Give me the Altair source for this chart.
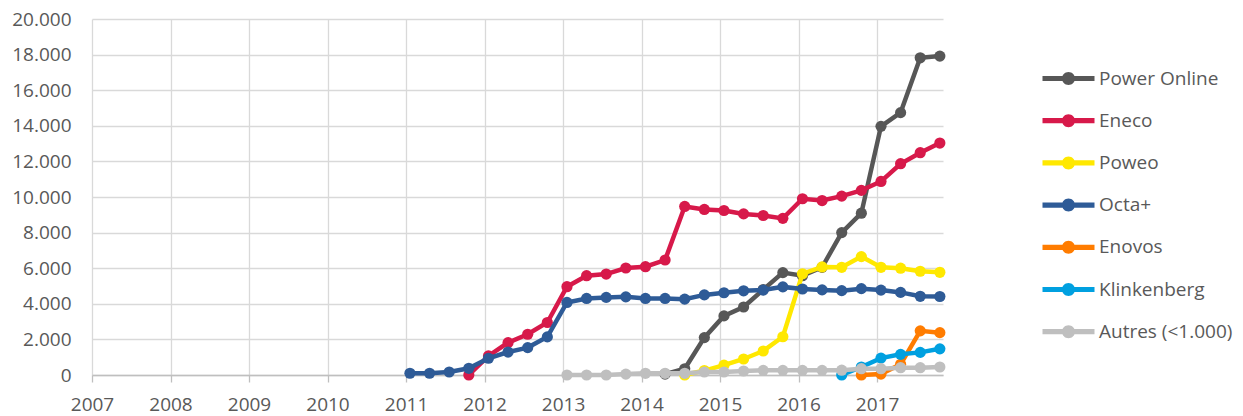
import altair as alt
import pandas as pd

# ---- data -------------------------------------------------------------
years = [2011, 2012, 2013, 2014, 2015, 2016, 2017]
quarter_offsets = [0.05, 0.30, 0.55, 0.80]          # position of T1..T4 inside a year
quarter_x = [y + q for y in years for q in quarter_offsets]   # 28 quarters 2011T1..2017T4

series_names = ["Power Online", "Eneco", "Poweo", "Octa+", "Enovos",
                "Klinkenberg", "Autres (<1.000)"]
series_colors = ["#575757", "#D7194A", "#FFE800", "#2E5B97", "#FF7C00",
                 "#00A0E0", "#BFBFBF"]

# first quarter index (0 = 2011T1) of each series
start_index = [13, 3, 14, 0, 23, 22, 8]

power_online = [50, 350, 2100,
                3320, 3820, 4800, 5750,
                5580, 6050, 8000, 9090,
                13970, 14740, 17820, 17915]
eneco = [0,
         1070, 1820, 2290, 2950,
         4960, 5580, 5670, 6010,
         6085, 6460, 9470, 9300,
         9240, 9050, 8960, 8800,
         9900, 9800, 10050, 10370,
         10875, 11870, 12490, 13030]
poweo = [0, 250,
         550, 900, 1350, 2150,
         5690, 6070, 6050, 6650,
         6050, 6000, 5830, 5770]
octa = [100, 100, 170, 375,
        940, 1290, 1540, 2140,
        4075, 4300, 4360, 4390,
        4300, 4300, 4260, 4500,
        4620, 4730, 4770, 4950,
        4830, 4780, 4740, 4850,
        4770, 4640, 4420, 4410]
enovos = [0, 50, 600, 2480, 2380]
klinkenberg = [0, 450, 950, 1160, 1270, 1470]
autres = [0, 0, 0, 50,
          95, 95, 95, 170,
          170, 225, 260, 260,
          260, 260, 270, 355,
          355, 410, 410, 450]

series_values = [power_online, eneco, poweo, octa, enovos, klinkenberg, autres]

year_ticks = list(range(2007, 2018))
y_ticks = list(range(0, 20001, 2000))

# ---- chart ------------------------------------------------------------
FONT = "Open Sans"
TXT = "#595959"
FS = 19

x_enc = alt.X("t:Q",
              scale=alt.Scale(domain=[2007, 2017.84], nice=False, zero=False),
              axis=alt.Axis(values=year_ticks, format="d", title=None,
                            grid=True, gridColor="#D9D9D9", gridWidth=1.3,
                            domainColor="#BFBFBF", domainWidth=1.3,
                            ticks=True, tickColor="#BFBFBF", tickSize=7, tickWidth=1.3,
                            labelFont=FONT, labelFontSize=FS, labelColor=TXT,
                            labelPadding=13, labelFlush=False))
y_enc = alt.Y("v:Q",
              scale=alt.Scale(domain=[0, 20000], nice=False),
              axis=alt.Axis(values=y_ticks, title=None,
                            labelExpr="replace(format(datum.value, ','), ',', '.')",
                            grid=True, gridColor="#D9D9D9", gridWidth=1.3,
                            domain=False, ticks=False,
                            labelFont=FONT, labelFontSize=FS, labelColor=TXT,
                            labelPadding=21))

fill_scale = alt.Scale(domain=series_names, range=series_colors)

legend_path = ("M-4,-0.4 L4,-0.4 L4,0.4 L-4,0.4 Z "
               "M-1,0 A1,1 0 1,1 1,0 A1,1 0 1,1 -1,0 Z")
legend = alt.Legend(title=None, orient="none", legendX=967, legendY=50,
                    symbolType=legend_path, symbolSize=169, symbolStrokeWidth=0,
                    labelFont=FONT, labelFontSize=FS, labelColor=TXT,
                    labelOffset=21, rowPadding=22.2, padding=0)

layers = []
for name, color, vals, s in zip(series_names, series_colors, series_values, start_index):
    df = pd.DataFrame({"t": quarter_x[s:s + len(vals)], "v": vals, "serie": name})
    line = alt.Chart(df).mark_line(strokeWidth=4.5, color=color).encode(x=x_enc, y=y_enc)
    pts = alt.Chart(df).mark_circle(size=125, opacity=1).encode(
        x=x_enc, y=y_enc,
        fill=alt.Fill("serie:N", scale=fill_scale, legend=legend))
    layers += [line, pts]

chart = alt.layer(*layers).properties(
    width=851, height=356,
    autosize=alt.AutoSizeParams(type="none"),
    padding={"left": 84, "top": 11, "right": 290, "bottom": 40},
    background="white",
).configure_view(strokeWidth=0)

chart.save("out.html", embed_options={"renderer": "svg", "actions": False})
